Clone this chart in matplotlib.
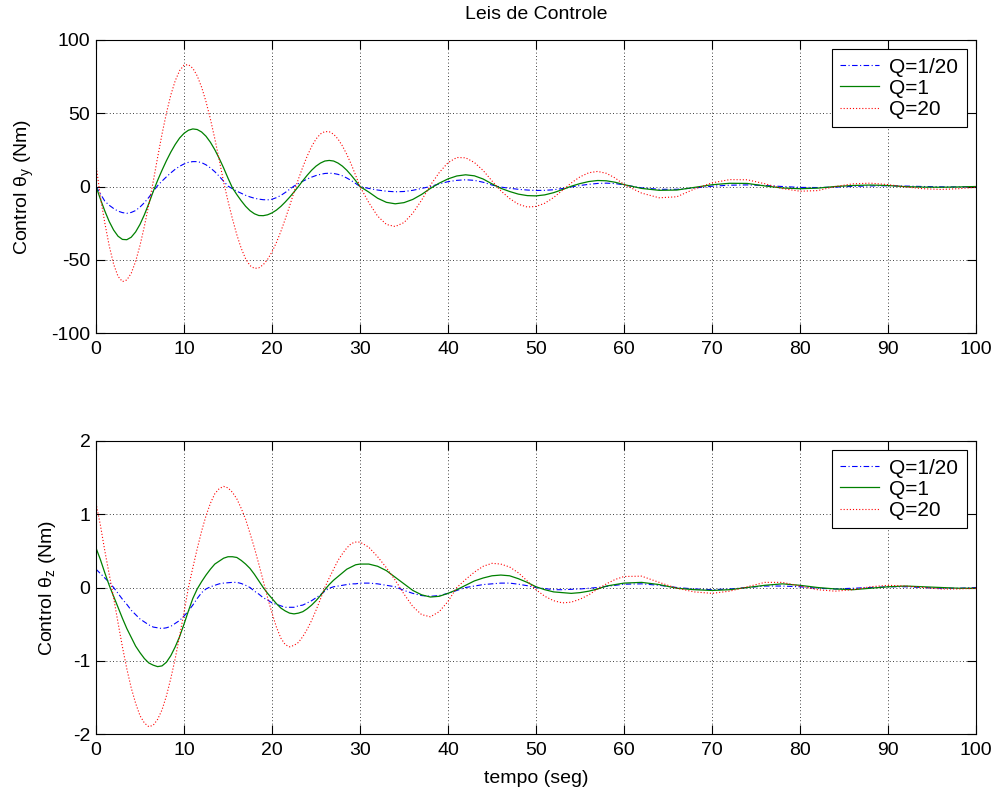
import numpy as np
import matplotlib
matplotlib.use('Agg')
import matplotlib.pyplot as plt

plt.rcParams['font.family'] = ['Liberation Sans', 'DejaVu Sans']
plt.rcParams['axes.unicode_minus'] = False
plt.rcParams['mathtext.fontset'] = 'custom'
plt.rcParams['mathtext.rm'] = 'Liberation Sans'
plt.rcParams['mathtext.it'] = 'Liberation Sans:italic'

# ---------------- data ----------------
# samples: every 0.5 s up to 30 s, every 1 s up to 60 s, every 2 s after
time_s = np.concatenate([np.arange(0, 30.5, 0.5), np.arange(31, 61), np.arange(62, 101, 2)])

labels = ['Q=1/20', 'Q=1', 'Q=20']

# top panel: Control theta_y (Nm)
thy_q005 = [0.0, -5.0, -10.0, -12.8, -15.0, -16.8, -17.8, -18.3, -17.7, -16.4,
            -14.0, -11.0, -7.4, -3.4, 0.6, 3.7, 6.6, 9.3, 11.8, 13.8,
            15.4, 16.5, 17.0, 17.0, 16.3, 14.8, 12.7, 10.1, 7.0, 3.6,
            0.3, -1.5, -3.2, -4.6, -6.0, -7.1, -8.0, -8.6, -9.0, -9.1,
            -8.7, -7.6, -6.1, -4.1, -1.9, 0.3, 2.0, 3.6, 5.1, 6.4,
            7.5, 8.3, 8.9, 9.1, 8.9, 8.3, 7.3, 5.8, 4.1, 2.1,
            0.0,
            -1.3, -2.4, -3.2, -3.6, -3.4, -2.6, -1.3, 0.0, 1.8, 3.3,
            4.2, 4.6, 4.2, 2.9, 1.0, -0.4, -1.2, -1.9, -2.4, -2.7,
            -2.6, -2.2, -1.4, -0.3, 0.7, 1.5, 2.1, 2.3, 2.0, 1.1,
            -0.9, -1.9, -1.9, -1.0, 0.2, 0.9, 1.1, 0.7, 0.0, -0.6,
            -0.7, -0.4, 0.1, 0.4, 0.5, 0.3, 0.0, -0.2, -0.3, -0.2]
thy_q1 = [0.0, -8.6, -16.7, -23.9, -29.7, -33.9, -36.1, -36.3, -34.6, -31.0,
          -25.8, -19.2, -11.6, -3.4, 4.2, 11.1, 17.6, 23.5, 28.7, 33.1,
          36.3, 38.4, 39.3, 38.9, 37.2, 34.3, 30.2, 25.1, 19.2, 12.7,
          5.7, -0.9, -5.5, -9.7, -13.5, -16.5, -18.6, -19.8, -19.9, -19.3,
          -18.0, -16.1, -13.6, -10.6, -7.3, -3.7, 0.0, 4.0, 7.7, 11.1,
          13.9, 16.0, 17.4, 17.8, 17.4, 16.0, 13.9, 11.1, 7.7, 4.0,
          0.0,
          -3.8, -8.0, -10.8, -11.8, -11.0, -8.8, -5.4, -1.3, 2.3, 5.2,
          7.2, 8.0, 7.3, 5.1, 1.8, -1.2, -3.4, -5.2, -6.2, -6.4,
          -5.7, -4.2, -2.1, 0.2, 2.0, 3.4, 4.1, 3.9, 2.9, 1.3,
          -1.3, -2.6, -2.4, -0.6, 1.2, 2.2, 2.1, 0.4, -1.0, -1.5,
          -1.1, 0.0, 0.7, 1.0, 0.7, -0.1, -0.4, -0.5, -0.3, 0.0]
thy_q20 = [15.0, -7.3, -24.9, -40.5, -53.0, -61.3, -64.9, -63.8, -59.2, -51.1,
           -40.2, -27.0, -12.3, 3.4, 19.9, 35.8, 50.1, 62.5, 72.2, 79.1,
           82.8, 83.2, 80.7, 75.5, 67.8, 57.9, 46.0, 32.6, 18.2, 3.1,
           -10.0, -22.0, -32.9, -42.2, -49.3, -54.0, -55.9, -55.5, -53.4, -49.7,
           -44.6, -38.2, -30.7, -22.3, -13.3, -3.8, 5.1, 13.3, 20.8, 27.3,
           32.4, 35.9, 37.5, 37.4, 35.7, 32.4, 27.7, 21.9, 15.2, 7.7,
           0.0,
           -11.0, -20.2, -25.9, -27.3, -24.6, -18.2, -9.3, 0.9, 9.5, 16.3,
           19.8, 19.6, 16.4, 10.9, 3.8, -2.9, -8.2, -12.1, -14.0, -13.6,
           -11.4, -7.5, -2.6, 2.4, 6.6, 9.4, 10.3, 9.0, 5.8, 1.4,
           -4.5, -7.7, -7.0, -1.7, 2.5, 4.7, 4.6, 1.9, -1.4, -3.2,
           -2.8, 0.0, 1.8, 2.3, 1.3, -0.3, -1.5, -2.0, -1.5, -0.5]

# bottom panel: Control theta_z (Nm)
thz_q005 = [0.25, 0.19, 0.13, 0.07, 0.00, -0.08, -0.16, -0.23, -0.31, -0.37,
            -0.43, -0.47, -0.51, -0.54, -0.55, -0.56, -0.55, -0.53, -0.49, -0.45,
            -0.39, -0.32, -0.24, -0.15, -0.07, -0.02, 0.01, 0.03, 0.05, 0.06,
            0.065, 0.07, 0.07, 0.055, 0.03, 0.00, -0.05, -0.09, -0.14, -0.17,
            -0.21, -0.23, -0.25, -0.27, -0.27, -0.27, -0.25, -0.24, -0.21, -0.18,
            -0.14, -0.10, -0.05, -0.01, 0.01, 0.02, 0.03, 0.04, 0.05, 0.05,
            0.06,
            0.06, 0.05, 0.03, 0.01, -0.04, -0.08, -0.11, -0.12, -0.11, -0.08,
            -0.04, 0.00, 0.02, 0.04, 0.05, 0.06, 0.06, 0.045, 0.025, 0.00,
            -0.015, -0.03, -0.03, -0.025, -0.02, -0.01, 0.00, 0.015, 0.03, 0.045,
            0.05, 0.03, 0.00, -0.02, -0.03, -0.02, 0.00, 0.02, 0.02, 0.01,
            -0.01, -0.02, -0.01, 0.00, 0.01, 0.01, 0.00, -0.01, -0.01, 0.00]
thz_q1 = [0.54, 0.38, 0.20, 0.03, -0.12, -0.27, -0.42, -0.56, -0.68, -0.80,
          -0.89, -0.97, -1.03, -1.06, -1.08, -1.07, -1.02, -0.93, -0.81, -0.67,
          -0.50, -0.32, -0.15, -0.02, 0.08, 0.17, 0.25, 0.32, 0.36, 0.40,
          0.42, 0.42, 0.41, 0.37, 0.32, 0.26, 0.18, 0.09, 0.00, -0.08,
          -0.15, -0.22, -0.28, -0.32, -0.35, -0.36, -0.35, -0.33, -0.29, -0.24,
          -0.18, -0.11, -0.03, 0.04, 0.10, 0.15, 0.20, 0.25, 0.28, 0.31,
          0.32,
          0.32, 0.29, 0.23, 0.14, 0.05, -0.04, -0.10, -0.13, -0.12, -0.08,
          -0.03, 0.03, 0.09, 0.13, 0.16, 0.17, 0.16, 0.12, 0.07, 0.01,
          -0.03, -0.06, -0.07, -0.08, -0.07, -0.05, -0.02, 0.02, 0.04, 0.06,
          0.07, 0.04, -0.01, -0.03, -0.04, -0.03, 0.00, 0.03, 0.05, 0.03,
          0.00, -0.02, -0.03, -0.01, 0.01, 0.02, 0.01, 0.00, -0.01, -0.01]
thz_q20 = [1.15, 0.85, 0.50, 0.18, -0.14, -0.48, -0.81, -1.11, -1.37, -1.58,
           -1.75, -1.85, -1.90, -1.88, -1.80, -1.67, -1.48, -1.24, -0.97, -0.66,
           -0.34, 0.00, 0.27, 0.53, 0.77, 0.98, 1.15, 1.28, 1.35, 1.38,
           1.36, 1.30, 1.21, 1.08, 0.93, 0.74, 0.54, 0.32, 0.09, -0.14,
           -0.35, -0.54, -0.69, -0.78, -0.81, -0.79, -0.75, -0.67, -0.57, -0.45,
           -0.31, -0.16, 0.00, 0.13, 0.25, 0.37, 0.46, 0.54, 0.60, 0.62,
           0.62,
           0.55, 0.42, 0.27, 0.10, -0.09, -0.26, -0.37, -0.40, -0.33, -0.19,
           0.00, 0.11, 0.21, 0.29, 0.33, 0.32, 0.28, 0.20, 0.09, -0.03,
           -0.12, -0.18, -0.21, -0.20, -0.16, -0.10, -0.02, 0.05, 0.11, 0.15,
           0.155, 0.07, -0.01, -0.06, -0.08, -0.05, 0.01, 0.07, 0.07, 0.02,
           -0.03, -0.05, -0.03, 0.01, 0.03, 0.02, 0.00, -0.02, -0.02, -0.01]

xticks = np.arange(0, 101, 10)
yticks_top = [-100, -50, 0, 50, 100]
yticks_bot = [-2, -1, 0, 1, 2]

# ---------------- figure ----------------
fig = plt.figure(figsize=(9.95, 7.92), dpi=100)
ax1 = fig.add_axes([0.0965, 0.5795, 0.8844, 0.370])
ax2 = fig.add_axes([0.0965, 0.0732, 0.8844, 0.370])

line_kw = [
    dict(color='#0000ff', linestyle=(0, (5, 2.2, 1, 2.2)), linewidth=0.8),
    dict(color='#008000', linestyle='-', linewidth=0.9),
    dict(color='#ff0000', linestyle=(0, (1, 1.8)), linewidth=0.8),
]

for ax, series, yt, ylab in [
        (ax1, [thy_q005, thy_q1, thy_q20], yticks_top, r'Control $\mathrm{\theta_y}$ (Nm)'),
        (ax2, [thz_q005, thz_q1, thz_q20], yticks_bot, r'Control $\mathrm{\theta_z}$ (Nm)')]:
    for s, kw, lab in zip(series, line_kw, labels):
        ax.plot(time_s, s, label=lab, **kw)
    ax.set_xlim(0, 100)
    ax.set_ylim(yt[0], yt[-1])
    ax.set_xticks(xticks)
    ax.set_yticks(yt)
    ax.grid(True, color='k', linestyle=(0, (1, 3)), linewidth=0.6)
    ax.tick_params(direction='in', top=True, right=True, length=6.5,
                   width=0.8, labelsize=14)
    ax.tick_params(axis='x', pad=6)
    ax.tick_params(axis='y', pad=4)
    for sp in ax.spines.values():
        sp.set_linewidth(0.8)
    ax.set_ylabel(ylab, fontsize=14, labelpad=11)
    leg = ax.legend(loc='upper right', fontsize=15, frameon=True, fancybox=False,
                    edgecolor='k', framealpha=1, borderaxespad=0.45,
                    handlelength=1.85, handletextpad=0.5, labelspacing=0.1,
                    borderpad=0.4)
    leg.get_frame().set_linewidth(0.8)

ax1.set_title('Leis de Controle', fontsize=14, pad=15)
ax2.set_xlabel('tempo (seg)', fontsize=14, labelpad=8)

fig.savefig('out.png', dpi=100)
